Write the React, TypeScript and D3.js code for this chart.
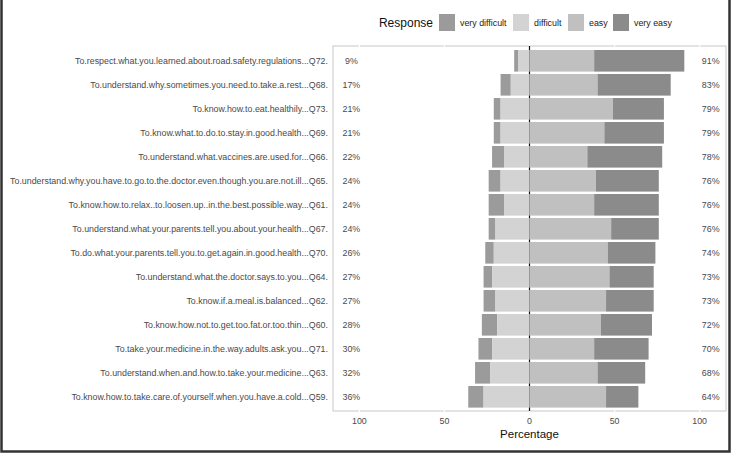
import { useEffect, useRef } from "react";
import * as d3 from "d3";

// questions, top to bottom
const questions = [
  "To.respect.what.you.learned.about.road.safety.regulations...Q72.",
  "To.understand.why.sometimes.you.need.to.take.a.rest...Q68.",
  "To.know.how.to.eat.healthily...Q73.",
  "To.know.what.to.do.to.stay.in.good.health...Q69.",
  "To.understand.what.vaccines.are.used.for...Q66.",
  "To.understand.why.you.have.to.go.to.the.doctor.even.though.you.are.not.ill...Q65.",
  "To.know.how.to.relax..to.loosen.up..in.the.best.possible.way...Q61.",
  "To.understand.what.your.parents.tell.you.about.your.health...Q67.",
  "To.do.what.your.parents.tell.you.to.get.again.in.good.health...Q70.",
  "To.understand.what.the.doctor.says.to.you...Q64.",
  "To.know.if.a.meal.is.balanced...Q62.",
  "To.know.how.not.to.get.too.fat.or.too.thin...Q60.",
  "To.take.your.medicine.in.the.way.adults.ask.you...Q71.",
  "To.understand.when.and.how.to.take.your.medicine...Q63.",
  "To.know.how.to.take.care.of.yourself.when.you.have.a.cold...Q59.",
];

const veryDifficult = [2.5, 6, 4, 4, 7, 7, 9, 4, 5, 5, 7, 9, 8, 9, 9];
const difficult = [6.5, 11, 17, 17, 15, 17, 15, 20, 21, 22, 20, 19, 22, 23, 27];
const easy = [38, 40, 49, 44, 34, 39, 38, 48, 46, 47, 45, 42, 38, 40, 45];
const veryEasy = [53, 43, 30, 35, 44, 37, 38, 28, 28, 26, 28, 30, 32, 28, 19];

const leftPct = ["9%", "17%", "21%", "21%", "22%", "24%", "24%", "24%", "26%", "27%", "27%", "28%", "30%", "32%", "36%"];
const rightPct = ["91%", "83%", "79%", "79%", "78%", "76%", "76%", "76%", "74%", "73%", "73%", "72%", "70%", "68%", "64%"];

const responses = ["very difficult", "difficult", "easy", "very easy"];
const colors = ["#9b9b9b", "#d3d3d3", "#c0c0c0", "#8b8b8b"];
const xTicks = [-100, -50, 0, 50, 100];

const W = 733;
const H = 460;

export default function App() {
  const ref = useRef<SVGSVGElement>(null);

  useEffect(() => {
    const svg = d3.select(ref.current);
    svg.selectAll("*").remove();

    const font = "Liberation Sans, Arial, sans-serif";
    const fs = 8.85;
    const x = d3.scaleLinear().domain([-115.5, 115.5]).range([333, 726]);
    const y = d3
      .scaleBand()
      .domain(questions)
      .range([48.8, 408.8])
      .paddingInner(0.1)
      .paddingOuter(0.05);
    const top = 46;
    const bottom = 411;

    svg.append("rect").attr("width", W).attr("height", H).attr("fill", "white");

    // outer frame
    svg
      .append("path")
      .attr("d", `M1.5,0 V451.5 H729.5 V0`)
      .attr("fill", "none")
      .attr("stroke", "#333")
      .attr("stroke-width", 2.5);

    // panel
    svg
      .append("rect")
      .attr("x", x(-115.5))
      .attr("y", top)
      .attr("width", x(115.5) - x(-115.5))
      .attr("height", bottom - top)
      .attr("fill", "white")
      .attr("stroke", "#c8c8c8")
      .attr("stroke-width", 1);

    // white grid lines (break the border)
    svg
      .selectAll(".grid")
      .data(xTicks)
      .join("line")
      .attr("x1", (d) => x(d))
      .attr("x2", (d) => x(d))
      .attr("y1", top - 1)
      .attr("y2", bottom + 1)
      .attr("stroke", "white")
      .attr("stroke-width", 1.2);

    // zero reference line behind bars
    svg
      .append("line")
      .attr("x1", x(0))
      .attr("x2", x(0))
      .attr("y1", top)
      .attr("y2", bottom)
      .attr("stroke", "#111")
      .attr("stroke-width", 1.2);

    // stacked segments
    const rows = questions.map((q, i) => {
      const segs = [
        { x0: -(veryDifficult[i] + difficult[i]), x1: -difficult[i], k: 0 },
        { x0: -difficult[i], x1: 0, k: 1 },
        { x0: 0, x1: easy[i], k: 2 },
        { x0: easy[i], x1: easy[i] + veryEasy[i], k: 3 },
      ];
      return { q, segs };
    });

    const g = svg
      .selectAll(".row")
      .data(rows)
      .join("g")
      .attr("transform", (d) => `translate(0,${y(d.q)})`);

    g.selectAll("rect")
      .data((d) => d.segs)
      .join("rect")
      .attr("x", (s) => x(s.x0))
      .attr("width", (s) => x(s.x1) - x(s.x0))
      .attr("height", y.bandwidth())
      .attr("fill", (s) => colors[s.k]);

    // y labels
    svg
      .append("g")
      .selectAll("text")
      .data(questions)
      .join("text")
      .attr("x", 328)
      .attr("y", (d) => (y(d) ?? 0) + y.bandwidth() / 2)
      .attr("dy", "0.35em")
      .attr("text-anchor", "end")
      .attr("font-family", font)
      .attr("font-size", fs)
      .attr("fill", "#4a4a4a")
      .text((d) => d);

    // percent labels
    svg
      .append("g")
      .selectAll("text")
      .data(questions)
      .join("text")
      .attr("x", x(-104.7))
      .attr("y", (d) => (y(d) ?? 0) + y.bandwidth() / 2)
      .attr("dy", "0.35em")
      .attr("text-anchor", "middle")
      .attr("font-family", font)
      .attr("font-size", fs)
      .attr("fill", "#4a4a4a")
      .text((d, i) => leftPct[i]);

    svg
      .append("g")
      .selectAll("text")
      .data(questions)
      .join("text")
      .attr("x", x(106.5))
      .attr("y", (d) => (y(d) ?? 0) + y.bandwidth() / 2)
      .attr("dy", "0.35em")
      .attr("text-anchor", "middle")
      .attr("font-family", font)
      .attr("font-size", fs)
      .attr("fill", "#4a4a4a")
      .text((d, i) => rightPct[i]);

    // x axis labels
    svg
      .append("g")
      .selectAll("text")
      .data(xTicks)
      .join("text")
      .attr("x", (d) => x(d))
      .attr("y", 421)
      .attr("dy", "0.35em")
      .attr("text-anchor", "middle")
      .attr("font-family", font)
      .attr("font-size", fs)
      .attr("fill", "#4a4a4a")
      .text((d) => Math.abs(d));

    svg
      .append("text")
      .attr("x", x(0))
      .attr("y", 433.5)
      .attr("dy", "0.35em")
      .attr("text-anchor", "middle")
      .attr("font-family", font)
      .attr("font-size", 11.5)
      .attr("fill", "#111")
      .text("Percentage");

    // legend
    svg
      .append("text")
      .attr("x", 433)
      .attr("y", 22.5)
      .attr("dy", "0.35em")
      .attr("text-anchor", "end")
      .attr("font-family", font)
      .attr("font-size", 12)
      .attr("fill", "#111")
      .text("Response");

    const swatchX = [439, 513, 568, 613];
    const lg = svg
      .append("g")
      .selectAll("g")
      .data(responses)
      .join("g")
      .attr("transform", (d, i) => `translate(${swatchX[i]},14)`);
    lg.append("rect")
      .attr("width", 16)
      .attr("height", 17)
      .attr("fill", (d, i) => colors[i]);
    lg.append("text")
      .attr("x", 21)
      .attr("y", 8.5)
      .attr("dy", "0.35em")
      .attr("font-family", font)
      .attr("font-size", fs)
      .attr("fill", "#222")
      .text((d) => d);
  }, []);

  return (
    <svg
      ref={ref}
      width={W}
      height={H}
      style={{ position: "absolute", left: 0, top: 0 }}
    />
  );
}
